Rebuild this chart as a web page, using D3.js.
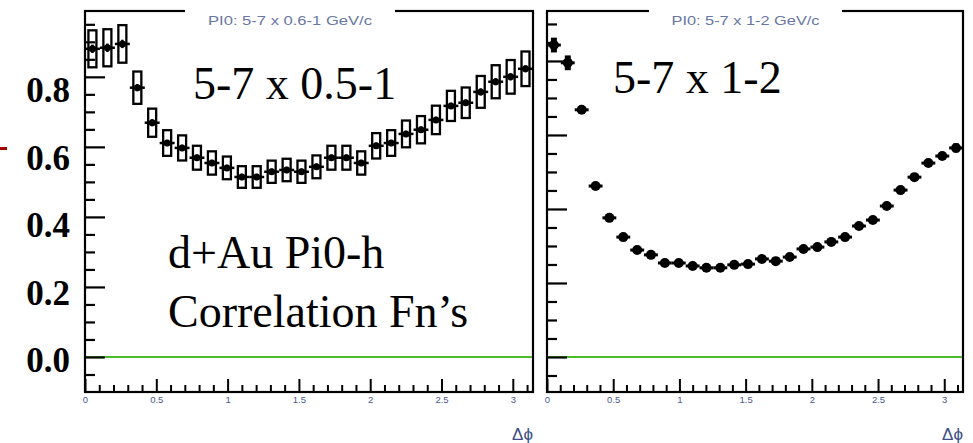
<!DOCTYPE html>
<html><head><meta charset="utf-8">
<script src="https://cdn.jsdelivr.net/npm/d3@7"></script>
<style>body{margin:0;background:#fff}svg{display:block}</style>
</head><body>
<svg id="c" width="973" height="443"></svg>
<script>
// ---- data ----
const dphi = [0.052,0.157,0.262,0.367,0.471,0.576,0.681,0.785,0.890,0.995,1.100,1.204,1.309,1.414,1.518,1.623,1.728,1.833,1.937,2.042,2.147,2.251,2.356,2.461,2.566,2.670,2.775,2.880,2.985,3.089];
const binHalf = 0.0524;
const leftValues = [0.880,0.883,0.894,0.769,0.669,0.611,0.597,0.569,0.554,0.540,0.514,0.514,0.529,0.534,0.529,0.543,0.569,0.569,0.554,0.603,0.611,0.637,0.649,0.677,0.717,0.726,0.757,0.786,0.800,0.823];
const leftStatErr = [0.012,0.012,0.012,0.010,0.010,0.009,0.009,0.009,0.009,0.009,0.009,0.009,0.009,0.009,0.009,0.009,0.009,0.009,0.009,0.009,0.009,0.009,0.009,0.009,0.009,0.009,0.010,0.010,0.010,0.010];
const sysFrac = 0.06;
const rightValues = [0.843,0.795,0.668,0.462,0.376,0.324,0.289,0.276,0.254,0.254,0.246,0.241,0.241,0.249,0.251,0.265,0.259,0.270,0.292,0.297,0.311,0.324,0.354,0.370,0.408,0.451,0.486,0.524,0.543,0.565];
const rightStatErr = [0.020,0.020,0.010,0.008,0.007,0.006,0.006,0.006,0.006,0.006,0.006,0.006,0.006,0.006,0.006,0.006,0.006,0.006,0.006,0.006,0.006,0.006,0.006,0.006,0.006,0.007,0.007,0.008,0.008,0.012];
const xMajorTicks = [0,0.5,1,1.5,2,2.5,3];
const yMajorTicks = [0,0.2,0.4,0.6,0.8];
const yLabelText = ["0.0","0.2","0.4","0.6","0.8"];
const panelTitles = ["PI0: 5-7 x 0.6-1 GeV/c","PI0: 5-7 x 1-2 GeV/c"];
const panelNotes = ["5-7 x 0.5-1","5-7 x 1-2"];
const noteLines = ["d+Au Pi0-h","Correlation Fn\u2019s"];
const xTitle = "\u0394\u03d5";

// ---- drawing ----
const svg = d3.select("#c");
const frameTop = 11, frameBottom = 392;
const panels = [
  {x0:85, x1:533, yDom:[-0.1,0.988], vals:leftValues, err:leftStatErr, boxes:true, r:3.5,
   title:panelTitles[0], tx:185, tw:210, tlen:164},
  {x0:547, x1:963, yDom:[-0.0946,0.935], vals:rightValues, err:rightStatErr, boxes:false, r:5,
   title:panelTitles[1], tx:649, tw:193, tlen:148}
];

panels.forEach((p,pi)=>{
  const x = d3.scaleLinear().domain([0,Math.PI]).range([p.x0,p.x1]);
  const y = d3.scaleLinear().domain(p.yDom).range([frameBottom,frameTop]);
  const g = svg.append("g");

  g.append("rect").attr("x",p.x0).attr("y",frameTop).attr("width",p.x1-p.x0).attr("height",frameBottom-frameTop)
    .attr("fill","none").attr("stroke","#000").attr("stroke-width",2.2);

  g.append("line").attr("x1",p.x0+1).attr("x2",p.x1-1).attr("y1",y(0)).attr("y2",y(0))
    .attr("stroke","#4cbb2a").attr("stroke-width",2);

  const yMinor = d3.range(-0.05, p.yDom[1], 0.05).filter(v=>!yMajorTicks.some(m=>Math.abs(m-v)<1e-6));
  g.append("g").attr("transform",`translate(${p.x0},0)`)
    .call(d3.axisRight(y).tickValues(yMajorTicks).tickSize(20).tickSizeOuter(0).tickFormat(""))
    .call(a=>{a.select(".domain").remove(); a.selectAll("line").attr("stroke-width",2.2);});
  g.append("g").attr("transform",`translate(${p.x0},0)`)
    .call(d3.axisRight(y).tickValues(yMinor).tickSize(10).tickSizeOuter(0).tickFormat(""))
    .call(a=>{a.select(".domain").remove(); a.selectAll("line").attr("stroke-width",2.2);});

  const xMinor = d3.range(0.1, Math.PI, 0.1).filter(v=>Math.abs(v*2-Math.round(v*2))>1e-6);
  g.append("g").attr("transform",`translate(0,${frameBottom})`)
    .call(d3.axisBottom(x).tickValues(xMinor).tickSize(-7).tickSizeOuter(0).tickFormat(""))
    .call(a=>{a.select(".domain").remove(); a.selectAll("line").attr("stroke-width",2);});
  g.append("g").attr("transform",`translate(0,${frameBottom})`)
    .call(d3.axisBottom(x).tickValues(xMajorTicks).tickSize(-13).tickSizeOuter(0).tickPadding(4).tickFormat(d=>String(d)))
    .call(a=>{a.select(".domain").remove(); a.selectAll("line").attr("stroke-width",2);
      a.selectAll("text").attr("font-family","Liberation Sans, Arial, sans-serif").attr("font-size",9.5).attr("fill","#4a5a90");});

  g.append("text").attr("x",p.x1).attr("y",440).attr("text-anchor","end")
    .attr("font-family","Liberation Sans, Arial, sans-serif").attr("font-size",17).attr("fill","#3d4f86").text(xTitle);

  const pts = g.append("g").selectAll("g").data(p.vals.map((v,i)=>({x:dphi[i],v,e:p.err[i]}))).join("g");
  if (p.boxes) {
    pts.append("rect")
      .attr("x",d=>x(d.x)-4).attr("width",8)
      .attr("y",d=>y(d.v*(1+sysFrac))).attr("height",d=>y(d.v*(1-sysFrac))-y(d.v*(1+sysFrac)))
      .attr("fill","none").attr("stroke","#000").attr("stroke-width",2.3);
  }
  pts.append("line").attr("x1",d=>x(d.x-binHalf)).attr("x2",d=>x(d.x+binHalf))
    .attr("y1",d=>y(d.v)).attr("y2",d=>y(d.v)).attr("stroke","#000").attr("stroke-width",p.boxes?2.5:3);
  pts.append("line").attr("x1",d=>x(d.x)).attr("x2",d=>x(d.x))
    .attr("y1",d=>y(d.v+d.e)).attr("y2",d=>y(d.v-d.e)).attr("stroke","#000").attr("stroke-width",p.boxes?2.5:6);
  pts.append("circle").attr("cx",d=>x(d.x)).attr("cy",d=>y(d.v)).attr("r",p.r).attr("fill","#000");

  g.append("rect").attr("x",p.tx).attr("y",4).attr("width",p.tw).attr("height",24).attr("fill","#fff");
  g.append("text").attr("x",p.tx+p.tw/2).attr("y",25).attr("text-anchor","middle")
    .attr("font-family","Liberation Sans, Arial, sans-serif").attr("font-size",13)
    .attr("textLength",p.tlen).attr("lengthAdjust","spacingAndGlyphs")
    .attr("fill","#6877a3").text(p.title);
});

const serif = "Liberation Serif, Times New Roman, serif";
svg.append("text").attr("x",193).attr("y",99).attr("font-family",serif).attr("font-size",46).attr("fill","#000").text(panelNotes[0]);
svg.append("text").attr("x",613).attr("y",93).attr("font-family",serif).attr("font-size",46).attr("fill","#000").text(panelNotes[1]);
svg.append("text").attr("x",168).attr("y",268).attr("font-family",serif).attr("font-size",46).attr("fill","#000").text(noteLines[0]);
svg.append("text").attr("x",168).attr("y",327).attr("font-family",serif).attr("font-size",46).attr("fill","#000").text(noteLines[1]);

const labelY = d3.scaleLinear().domain([0,0.8]).range([372,102]);
svg.append("g").selectAll("text").data(yMajorTicks).join("text")
  .attr("x",70).attr("y",d=>labelY(d)).attr("text-anchor","end")
  .attr("font-family",serif).attr("font-weight","bold").attr("font-size",35).attr("fill","#000")
  .text((d,i)=>yLabelText[i]);

svg.append("rect").attr("x",0).attr("y",147).attr("width",7).attr("height",3).attr("fill","#a80000");
</script>
</body></html>
